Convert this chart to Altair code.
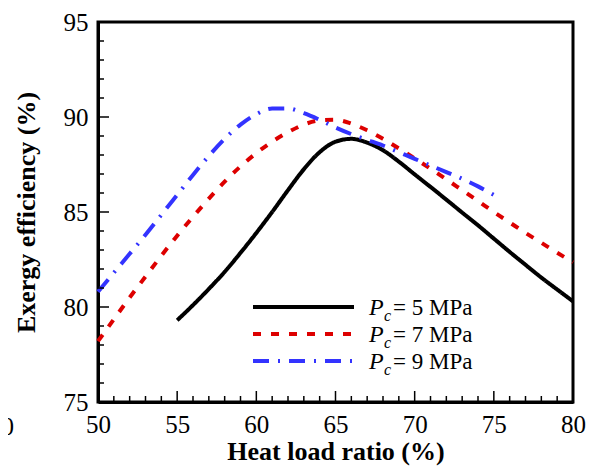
import pandas as pd
import altair as alt

# heat load ratio (%) and exergy efficiency (%)
x_5mpa = list(range(55, 81))
eff_5mpa = [79.3, 80.1, 80.95, 81.85, 82.85, 83.9, 85.0, 86.15, 87.25, 88.15,
            88.7, 88.85, 88.65, 88.25, 87.65, 86.98, 86.32, 85.65, 84.97, 84.3,
            83.6, 82.9, 82.22, 81.55, 80.92, 80.3]

x_7mpa = list(range(50, 81))
eff_7mpa = [78.2, 79.35, 80.5, 81.6, 82.7, 83.75, 84.75, 85.7, 86.6, 87.4,
            88.1, 88.7, 89.2, 89.6, 89.82, 89.85, 89.65, 89.3, 88.85, 88.35,
            87.82, 87.28, 86.72, 86.15, 85.58, 85.0, 84.45, 83.9, 83.38, 82.86,
            82.35]

x_9mpa = list(range(50, 76))
eff_9mpa = [80.8, 81.8, 82.8, 83.8, 84.85, 85.9, 86.95, 87.95, 88.85, 89.6,
            90.15, 90.45, 90.45, 90.2, 89.85, 89.45, 89.1, 88.8, 88.5, 88.15,
            87.8, 87.45, 87.1, 86.75, 86.35, 85.9]

series = ['5 MPa', '7 MPa', '9 MPa']
colors = ['#000000', '#dd0000', '#3333ff']
dashes = [[1, 0], [8, 10], [16, 9, 2, 9]]

x_major = [50, 55, 60, 65, 70, 75, 80]
x_minor = [v for v in range(50, 81) if v % 5]
y_major = [75, 80, 85, 90, 95]
y_minor = [v for v in range(75, 96) if v % 5]

font = 'Liberation Serif'
W, H = 475, 380

df = pd.concat([
    pd.DataFrame({'x': x_5mpa, 'y': eff_5mpa, 'series': series[0]}),
    pd.DataFrame({'x': x_7mpa, 'y': eff_7mpa, 'series': series[1]}),
    pd.DataFrame({'x': x_9mpa, 'y': eff_9mpa, 'series': series[2]}),
])

xscale = alt.Scale(domain=[50, 80], nice=False)
yscale = alt.Scale(domain=[75, 95], nice=False)

lines = alt.Chart(df).mark_line(strokeWidth=4, strokeCap='butt', interpolate='monotone').encode(
    x=alt.X('x:Q', scale=xscale,
            axis=alt.Axis(values=x_major, title='Heat load ratio (%)', titlePadding=1)),
    y=alt.Y('y:Q', scale=yscale,
            axis=alt.Axis(values=y_major, title='Exergy efficiency (%)', titlePadding=24)),
    color=alt.Color('series:N', scale=alt.Scale(domain=series, range=colors), legend=None),
    strokeDash=alt.StrokeDash('series:N', scale=alt.Scale(domain=series, range=dashes), legend=None),
    order=alt.Order('x:Q'),
)

# inward tick marks
def xticks(vals, length):
    return alt.Chart(pd.DataFrame({'t': vals})).mark_rule(color='black', strokeWidth=1.5).encode(
        x=alt.X('t:Q', scale=xscale), y=alt.value(H), y2=alt.value(H - length))

def yticks(vals, length):
    return alt.Chart(pd.DataFrame({'t': vals})).mark_rule(color='black', strokeWidth=1.5).encode(
        y=alt.Y('t:Q', scale=yscale), x=alt.value(0), x2=alt.value(length))

ticks = xticks(x_major, 11) + xticks(x_minor, 6) + yticks(y_major, 11) + yticks(y_minor, 6)

# hand-made legend with subscripted P_c
legend_layers = []
row_y = [285, 312, 339]
for name, col, dash, ry in zip(series, colors, dashes, row_y):
    d = pd.DataFrame({'p': ['P'], 'c': ['c'], 'rest': ['= ' + name]})
    base = alt.Chart(d)
    legend_layers.append(base.mark_rule(color=col, strokeWidth=4, strokeDash=dash, strokeCap='butt').encode(
        x=alt.value(155), x2=alt.value(256), y=alt.value(ry)))
    legend_layers.append(base.mark_text(font=font, fontSize=24, fontStyle='italic', align='left',
                                        baseline='alphabetic').encode(
        x=alt.value(271), y=alt.value(ry + 8), text='p:N'))
    legend_layers.append(base.mark_text(font=font, fontSize=16, fontStyle='italic', align='left',
                                        baseline='alphabetic').encode(
        x=alt.value(286), y=alt.value(ry + 14), text='c:N'))
    legend_layers.append(base.mark_text(font=font, fontSize=23, align='left',
                                        baseline='alphabetic').encode(
        x=alt.value(295), y=alt.value(ry + 8), text='rest:N'))

# cut-off label at the far left edge of the original figure
stray = alt.Chart(pd.DataFrame({'t': ['0']})).mark_text(
    font=font, fontSize=25, align='right', baseline='alphabetic').encode(
    x=alt.value(-84), y=alt.value(413), text='t:N')

chart = alt.layer(lines, ticks, *legend_layers, stray).properties(
    width=W, height=H,
    padding={'left': 90, 'top': 14, 'right': 13, 'bottom': 66},
    autosize=alt.AutoSizeParams(type='none'),
).configure_view(
    stroke='black', strokeWidth=3
).configure_axis(
    grid=False, ticks=False, domainColor='black', domainWidth=3,
    labelFont=font, labelFontSize=25, labelColor='black', labelPadding=10,
    labelFlush=False, labelOverlap=False,
    titleFont=font, titleFontSize=26, titleFontWeight='bold', titleColor='black',
)

chart.save("out.html", embed_options={"renderer": "svg", "actions": False})
